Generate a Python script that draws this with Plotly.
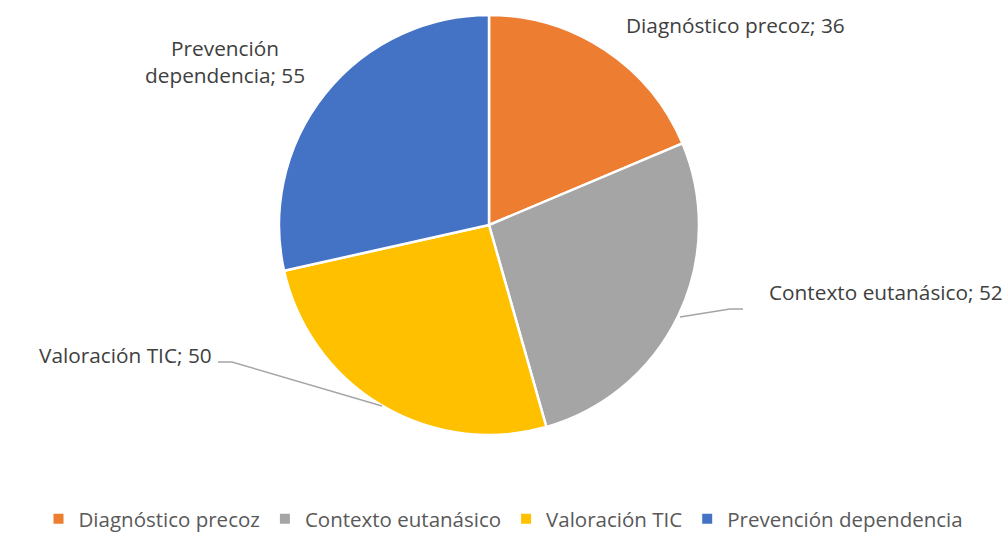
import plotly.graph_objects as go

categories = ["Diagnóstico precoz", "Contexto eutanásico", "Valoración TIC", "Prevención dependencia"]
values = [36, 52, 50, 55]
colors = ["#ED7D31", "#A5A5A5", "#FFC000", "#4472C4"]

W, H = 1007, 533
cx, cy, r = 489, 225, 210

fig = go.Figure(go.Pie(
    labels=categories, values=values, sort=False, direction="clockwise", rotation=0,
    marker=dict(colors=colors, line=dict(color="white", width=2.5)),
    textinfo="none", hoverinfo="label+value",
    domain=dict(x=[(cx - r) / W, (cx + r) / W], y=[1 - (cy + r) / H, 1 - (cy - r) / H]),
))

def px(x):
    return x / W

def py(y):
    return 1 - y / H

FONT = "Open Sans, Noto Sans, sans-serif"
label_font = dict(family=FONT, size=20.8, color="#404040")
ann = [
    (f"{categories[0]}; {values[0]}", 624, 25, "left"),
    (f"{categories[1]}; {values[1]}", 767, 292, "left"),
    (f"{categories[2]}; {values[2]}", 214, 355, "right"),
    (f"Prevención<br>dependencia; {values[3]}", 225, 62, "center"),
]
for text, x, y, al in ann:
    fig.add_annotation(text=text, x=px(x), y=py(y), xref="paper", yref="paper",
                       xanchor=al, yanchor="middle", showarrow=False, font=label_font, align="center")

line = dict(color="#A5A5A5", width=1.5)
for pts in [[(680, 317), (730, 309), (743, 309)], [(218, 362), (232, 362), (382, 406)]]:
    path = "M " + " L ".join(f"{px(x)},{py(y)}" for x, y in pts)
    fig.add_shape(type="path", path=path, xref="paper", yref="paper", line=line)

fig.update_layout(
    width=W, height=H, margin=dict(l=0, r=0, t=0, b=0, autoexpand=False),
    paper_bgcolor="white", plot_bgcolor="white",
    showlegend=True,
    legend=dict(orientation="h", x=0.5, xanchor="center", y=py(519), yanchor="middle",
                font=dict(family=FONT, size=20.5, color="#595959"),
                itemsizing="constant", traceorder="normal"),
)
fig.write_html("out.html", config=dict(displayModeBar=False),
               post_script="document.body.style.margin='0';document.body.style.overflow='hidden';")
